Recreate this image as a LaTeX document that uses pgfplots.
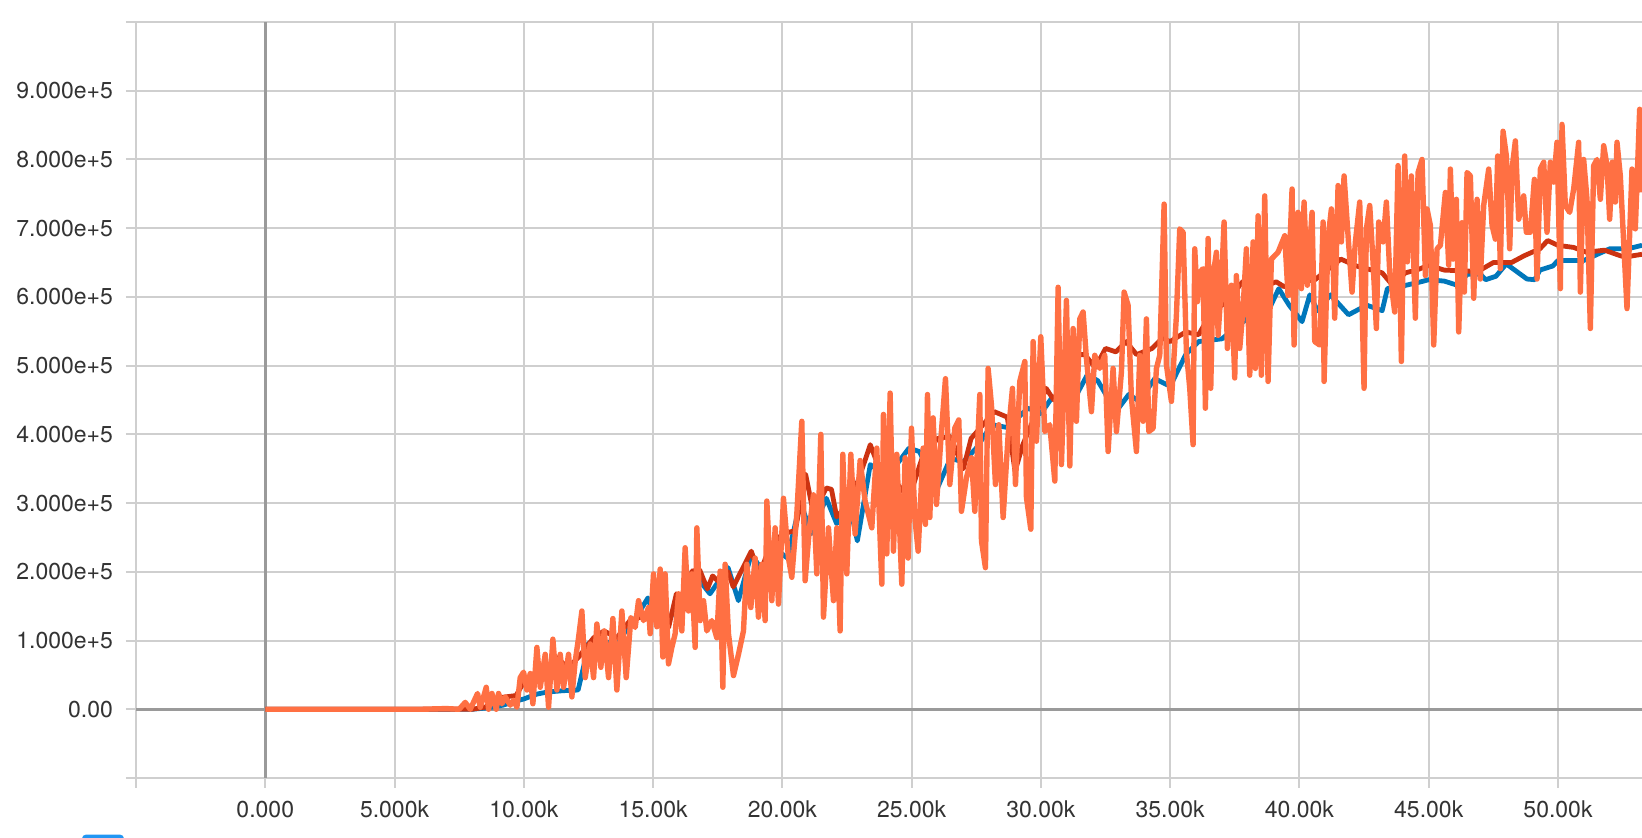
\documentclass[border=0pt]{standalone}
\usepackage{pgfplots}
\pgfplotsset{compat=1.18}
\usepackage{fontspec}
\setmainfont{TeX Gyre Heros}
\definecolor{tbblue}{HTML}{0077BB}
\definecolor{tbred}{HTML}{CC3311}
\definecolor{tborange}{HTML}{FF7043}
\definecolor{gridc}{HTML}{CFCFCF}
\definecolor{zeroc}{HTML}{9A9A9A}
\definecolor{labc}{HTML}{333333}
\definecolor{legblue}{HTML}{2196F3}
\begin{document}
\begin{tikzpicture}
\useasboundingbox (-68pt,-30pt) rectangle (753pt,389pt);
\fill[legblue, rounded corners=2pt] (-27pt,-36pt) rectangle (-6pt,-28.3pt);
\begin{axis}[
  scale only axis,
  width=753pt, height=378pt,
  xmin=-5000, xmax=53250,
  ymin=-1, ymax=10,
  axis lines=left,
  axis line style={-, draw=gridc, line width=1pt},
  xtick={-5000,0,5000,10000,15000,20000,25000,30000,35000,40000,45000,50000},
  xticklabels={,0.000,5.000k,10.00k,15.00k,20.00k,25.00k,30.00k,35.00k,40.00k,45.00k,50.00k},
  ytick={-1,0,1,2,3,4,5,6,7,8,9,10},
  yticklabels={,0.00,1.000e+5,2.000e+5,3.000e+5,4.000e+5,5.000e+5,6.000e+5,7.000e+5,8.000e+5,9.000e+5,},
  tick align=outside,
  major tick length=5pt,
  tick style={draw=gridc, line width=1pt},
  grid=major,
  major grid style={draw=gridc, line width=1pt},
  ticklabel style={font=\fontsize{11.5}{13}\selectfont, text=labc},
  xticklabel style={yshift=-3pt},
  yticklabel style={xshift=-3pt},
  clip=true,
]
\draw[zeroc, line width=1.5pt] (axis cs:0,-1) -- (axis cs:0,10);
\draw[zeroc, line width=1.5pt] (axis cs:-5000,0) -- (axis cs:53250,0);

% blue series
\addplot[tbblue, line width=2.4pt, line join=round] table {
0 0
8000 0
8600 0.02
9200 0.06
9700 0.12
10000 0.15
10500 0.22
10900 0.25
11500 0.27
12100 0.28
12300 0.6
12500 0.96
13000 0.97
13600 0.98
14200 1.25
14800 1.62
15000 1.4
15300 1.29
15700 1.35
15900 1.62
16400 1.62
16800 1.87
17200 1.68
17900 2.06
18300 1.58
18800 2.26
19300 1.97
19500 2.4
20200 2.2
20700 3.03
21100 2.55
21700 3.07
22100 2.7
22600 2.98
22900 2.45
23400 3.56
23900 3.42
24500 3.6
24900 3.8
25300 3.75
26000 3.22
26500 3.65
27000 3.6
27500 3.8
28100 4.14
28700 4.1
29500 4.38
30000 4.3
30400 4.52
31300 4.52
31800 4.87
32200 4.78
32900 4.33
33400 4.58
33800 4.48
34400 4.81
35000 4.7
35600 5.16
36100 5.35
37000 5.39
37500 5.54
38300 5.78
38800 5.8
39200 6.12
39600 5.88
40100 5.64
40400 6.03
40700 5.8
41200 6.03
41900 5.74
42600 5.88
43200 5.8
43400 6.12
43900 6.15
44700 6.22
45000 6.25
45600 6.23
46100 6.17
46500 6.33
47000 6.33
47200 6.25
47600 6.3
48000 6.48
48800 6.26
49100 6.25
49300 6.39
49800 6.45
50000 6.53
51000 6.53
52000 6.70
52700 6.70
53250 6.75
};

% red series
\addplot[tbred, line width=2.4pt, line join=round] table {
0 0
8000 0
8500 0.03
9100 0.17
9700 0.2
10100 0.46
10600 0.5
11300 0.75
11700 0.6
12100 0.75
12700 1.04
13100 1.14
13600 1.04
14100 1.29
14600 1.35
15200 1.43
15600 1.19
15900 1.68
16300 1.45
16500 2.01
16800 2.03
17100 1.75
17300 1.94
17500 1.87
17900 2.0
18100 1.78
18800 2.3
19100 1.95
19500 2.35
20000 2.55
20500 2.6
20900 3.42
21200 2.85
21700 3.22
21900 3.2
22100 2.8
22600 3.0
23000 3.4
23400 3.85
23900 3.35
24400 3.3
24900 3.07
25400 3.65
26000 3.94
26500 3.97
27000 3.5
27300 3.94
28200 4.33
28700 4.25
29000 3.46
29300 3.85
29900 4.38
30200 4.67
30500 4.5
31300 5.16
31700 5.16
32100 4.97
32500 5.25
32900 5.2
33300 5.35
33700 5.16
34300 5.25
34700 5.4
35000 5.35
35600 5.49
36100 5.45
36600 5.78
37200 5.93
37800 6.22
38300 6.1
39100 6.22
39400 6.15
40100 6.22
40600 6.25
41100 6.4
41600 6.55
42200 6.45
42700 6.4
43200 6.35
43600 6.17
44100 6.35
44600 6.4
45000 6.46
45600 6.39
46200 6.38
46900 6.37
47500 6.5
48200 6.5
48700 6.6
49300 6.7
49600 6.82
50000 6.75
50600 6.72
51100 6.65
51800 6.68
52400 6.6
52600 6.58
53250 6.62
};

% orange series
\addplot[tborange, line width=2.7pt, line join=round] table {
0 0
3000 0
6000 0
7000 0.01
7500 0
7734 0.1
7928 0
8211 0.23
8314 0.03
8443 0.18
8546 0.32
8637 0
8766 0.23
8933 0
9023 0.23
9152 0.08
9281 0.18
9474 0.06
9603 0.13
9732 0.03
9861 0.46
9990 0.54
10119 0.28
10248 0.52
10351 0.08
10506 0.9
10635 0.32
10828 0.8
10957 0.03
11124 1.02
11279 0.28
11408 0.8
11537 0.32
11730 0.8
11859 0.18
11988 0.7
12117 1.04
12246 1.43
12375 0.46
12568 0.95
12697 0.46
12826 1.24
12980 0.61
13109 1.14
13277 0.46
13445 1.32
13599 0.28
13793 1.43
13960 0.46
14141 1.33
14308 1.19
14437 1.58
14630 1.29
14824 1.48
14887 1.1
15016 1.97
15145 1.2
15274 2.04
15377 0.76
15467 1.97
15596 0.66
15725 0.9
15854 1.1
15983 1.68
16112 1.14
16240 2.35
16369 1.43
16498 1.97
16627 0.9
16692 2.64
16821 1.29
16950 1.58
17078 1.14
17272 1.29
17465 1.04
17594 2.01
17697 0.32
17787 2.11
17916 1.1
18110 0.49
18303 0.8
18496 1.14
18625 2.11
18780 1.48
18947 2.2
19076 1.34
19205 2.11
19334 1.29
19399 3.03
19592 1.58
19721 2.64
19850 1.53
20043 3.07
20236 2.2
20365 1.92
20559 2.84
20752 4.19
20881 1.87
21048 2.64
21203 3.12
21332 1.97
21487 4.0
21590 1.34
21783 2.64
21977 1.58
22105 2.64
22234 1.14
22337 3.71
22492 1.97
22647 3.71
22814 2.55
23008 3.62
23201 3.03
23459 2.64
23652 3.8
23846 1.82
23910 4.29
24039 2.26
24168 4.6
24297 2.3
24426 3.71
24619 1.82
24748 3.66
24865 2.2
24994 4.09
25123 2.79
25252 2.3
25445 3.8
25535 2.69
25613 4.58
25703 2.79
25832 4.24
25961 2.98
26154 4.05
26309 4.81
26476 3.27
26670 4.09
26824 4.21
26927 2.88
27121 3.37
27314 3.66
27443 2.88
27636 4.58
27701 2.45
27855 2.06
27958 4.96
28087 4.43
28242 3.27
28371 4.14
28539 2.79
28732 3.99
28900 4.67
29016 3.27
29183 4.77
29377 5.06
29441 3.08
29609 2.62
29699 5.35
29828 3.9
29995 5.42
30150 4.04
30343 4.14
30537 3.32
30666 6.14
30795 3.56
30988 5.95
31117 3.54
31246 5.54
31374 4.19
31503 5.68
31632 5.78
31761 5.1
31955 4.33
32083 5.15
32277 4.96
32470 5.15
32599 3.75
32792 4.96
32921 4.04
33115 4.91
33218 6.07
33372 5.88
33501 4.53
33695 3.75
33824 5.15
33953 4.19
34082 5.68
34172 4.04
34340 4.09
34468 4.96
34597 5.15
34765 7.35
34855 5.01
35048 4.48
35241 5.73
35370 6.99
35499 6.94
35628 5.2
35757 4.67
35886 3.85
35950 6.7
36053 5.93
36143 6.36
36272 6.41
36363 4.38
36466 6.85
36569 4.67
36659 6.31
36788 6.65
36853 5.44
36981 6.17
37084 7.09
37213 5.25
37368 6.17
37497 4.82
37561 6.31
37690 5.25
37819 5.83
37948 6.7
38077 4.86
38206 6.8
38296 4.96
38399 7.18
38528 4.86
38657 7.47
38786 4.77
38915 6.55
39173 6.65
39431 6.89
39559 6.02
39714 7.57
39791 5.3
39946 7.23
40075 6.12
40178 7.38
40307 6.17
40487 7.23
40591 5.35
40784 5.3
40913 7.09
40952 4.77
41106 6.85
41235 7.28
41364 5.69
41493 7.62
41622 6.8
41725 7.76
41880 6.89
42034 6.07
42163 6.8
42331 7.38
42498 4.67
42589 6.99
42718 7.33
42846 6.51
42975 5.54
43066 7.09
43233 6.8
43362 7.38
43491 6.36
43684 5.78
43813 7.91
43942 5.06
44071 8.05
44174 6.51
44329 7.76
44483 5.69
44587 7.81
44741 8.0
44870 6.31
44935 7.28
45064 7.04
45193 5.3
45322 6.7
45451 6.75
45644 7.52
45773 6.46
45837 7.86
45940 6.55
46069 7.42
46160 5.49
46288 7.08
46379 6.07
46482 7.81
46611 7.76
46740 5.98
46869 7.42
46997 6.26
47126 7.33
47320 7.86
47449 7.04
47578 6.84
47668 8.05
47771 6.41
47874 8.41
48003 8.05
48132 6.7
48222 7.86
48351 8.27
48480 7.13
48673 7.47
48776 6.94
48931 6.94
49086 7.71
49189 6.26
49318 7.86
49447 7.96
49575 6.94
49704 7.96
49833 7.67
49962 8.25
50091 6.12
50155 8.51
50284 7.33
50452 7.23
50607 7.57
50800 8.25
50864 6.07
50993 8.0
51122 7.42
51251 5.54
51380 7.91
51509 8.0
51638 7.42
51767 8.2
51896 7.91
51999 7.13
52102 7.96
52218 7.38
52282 8.25
52411 7.76
52669 5.83
52862 7.86
52991 6.99
53159 8.73
53250 7.52
};
\end{axis}
\end{tikzpicture}
\end{document}
